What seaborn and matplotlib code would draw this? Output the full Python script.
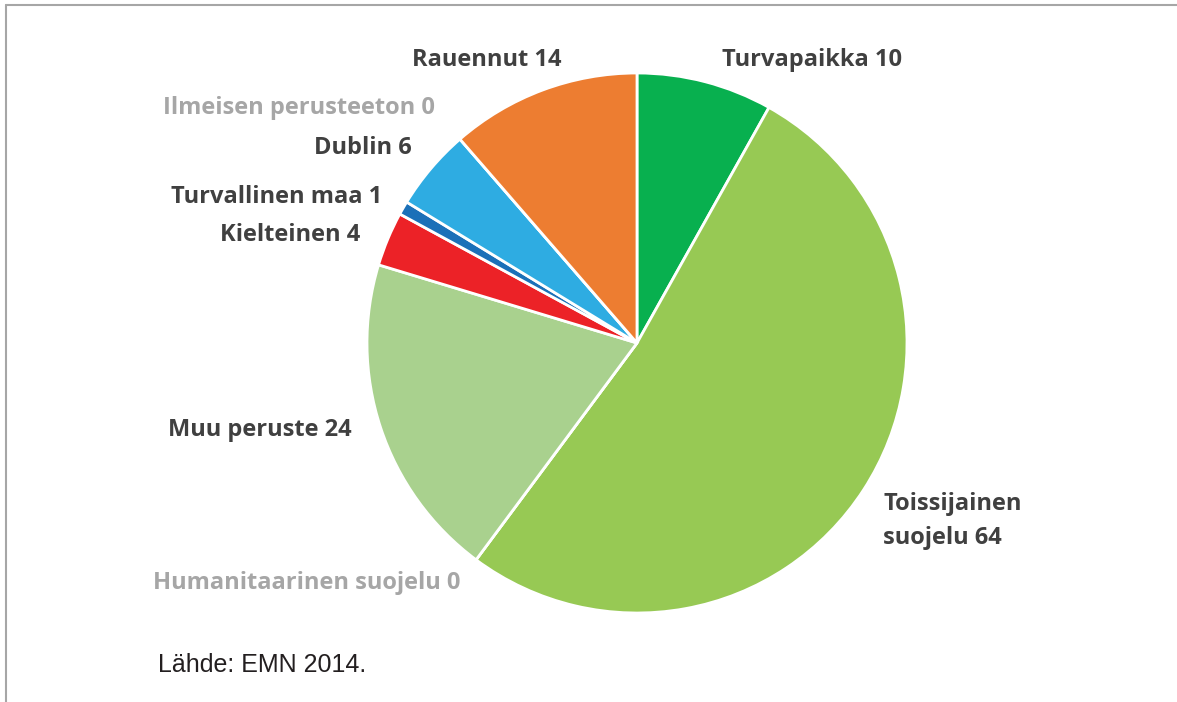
import matplotlib
matplotlib.use("Agg")
import matplotlib.pyplot as plt
from matplotlib.lines import Line2D
import seaborn as sns

sns.set_theme(style="white")
plt.rcParams['font.family'] = ['Open Sans', 'DejaVu Sans']

# data, clockwise from 12 o'clock
categories = ['Turvapaikka', 'Toissijainen\nsuojelu', 'Humanitaarinen suojelu', 'Muu peruste',
              'Kielteinen', 'Turvallinen maa', 'Dublin', 'Ilmeisen perusteeton', 'Rauennut']
values = [10, 64, 0, 24, 4, 1, 6, 0, 14]
colors = ['#08b04f', '#97c954', '#c9c9c9', '#a9d18e', '#ec2227',
          '#1b70b8', '#2eace2', '#c9c9c9', '#ed7d31']

W, H = 1177, 702
fig = plt.figure(figsize=(W / 100, H / 100), dpi=100)

cx, cy, r = 637, 343, 270
ax = fig.add_axes([(cx - r) / W, (H - cy - r) / H, 2 * r / W, 2 * r / H])
ax.pie(values, colors=colors, startangle=90, counterclock=False,
       wedgeprops=dict(edgecolor='white', linewidth=2))
ax.set_xlim(-1, 1)
ax.set_ylim(-1, 1)
ax.set_aspect('equal')

# label placement in pixels: (x, y, ha)
label_pos = [(722, 60, 'left'), (883, 521, 'left'), (460, 583, 'right'), (352, 430, 'right'),
             (360, 235, 'right'), (382, 197, 'right'), (412, 148, 'right'), (435, 108, 'right'),
             (562, 60, 'right')]
for name, v, (x, y, ha) in zip(categories, values, label_pos):
    col = '#a6a6a6' if v == 0 else '#404040'
    fig.text(x / W, 1 - y / H, f'{name} {v}', ha=ha, va='center', fontsize=17,
             fontweight='bold', color=col, linespacing=1.5)

fig.text(158 / W, 1 - 665 / H, 'Lähde: EMN 2014.', ha='left', va='center',
         fontsize=18, color='#231f20', family=['Liberation Sans', 'DejaVu Sans'])

# frame lines (top and left)
fig.add_artist(Line2D([6 / W, 1], [1 - 5 / H, 1 - 5 / H], transform=fig.transFigure,
                      color='#a6a6a6', lw=1.5))
fig.add_artist(Line2D([6 / W, 6 / W], [0, 1 - 5 / H], transform=fig.transFigure,
                      color='#a6a6a6', lw=1.5))

fig.savefig('out.png', dpi=100, facecolor='white')
